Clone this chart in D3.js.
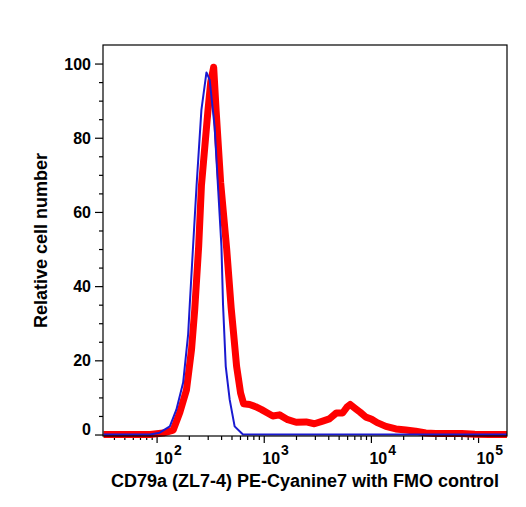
<!DOCTYPE html>
<html>
<head>
<meta charset="utf-8">
<script src="https://cdn.jsdelivr.net/npm/d3@7"></script>
<style>
  body { margin: 0; background: #fff; }
  text { font-family: "Liberation Sans", Arial, sans-serif; font-weight: bold; fill: #000; }
</style>
</head>
<body>
<div id="chart"></div>
<script>
// FMO control (blue) : intensity, % of max
var fmoIntensity = [32, 87, 107, 133, 153, 177, 197, 204, 219, 236, 262, 292, 313, 348, 374, 403, 417, 442, 481, 535, 640, 186000];
var fmoPercent   = [0, 0, 0.5, 2.2, 6.7, 14, 27, 35, 50.7, 67, 87.5, 97.6, 95.6, 83, 67, 50.7, 35, 18.4, 9.4, 2.2, 0, 0];

// CD79a stained (red)
var cdIntensity = [32, 87, 115, 143, 165, 190, 212, 227, 247, 262, 302, 320, 341, 360, 396, 451, 497, 524, 558, 608, 649,
  738, 839, 955, 1084, 1215, 1403, 1675, 2004, 2483, 2970, 3550, 4095, 4755, 5445, 6025, 6410, 7245, 7945, 8975,
  10070, 11450, 13800, 17100, 21200, 26200, 32500, 40300, 70600, 93300, 126000, 186000];
var cdPercent = [0, 0, 0.4, 1.2, 6, 12, 23, 33.7, 50.7, 67, 87.5, 95, 99, 87, 68, 50, 34, 27, 18.4, 11.2, 8.3,
  8.1, 7.5, 6.7, 5.8, 5.0, 5.3, 4.0, 3.3, 3.4, 2.9, 3.6, 4.2, 5.8, 5.8, 7.5, 8.1, 6.9, 6.0, 4.7,
  4.2, 3.2, 2.2, 1.5, 1.2, 0.9, 0.4, 0.3, 0.3, 0.1, 0, 0];

var yMajor = [0, 20, 40, 60, 80, 100];
var xMajor = [100, 1000, 10000, 100000];
var xLabelExp = ["2", "3", "4", "5"];

var margin = {top: 45, right: 19, bottom: 71, left: 103};
var W = 526, H = 507;
var w = W - margin.left - margin.right;
var h = H - margin.top - margin.bottom;

var svg = d3.select("#chart").append("svg")
  .attr("width", W)
  .attr("height", H);

var g = svg.append("g")
  .attr("transform", "translate(" + margin.left + "," + margin.top + ")");

var x = d3.scaleLog().domain([Math.pow(10, 1.5), Math.pow(10, 5.27)]).range([0, w]);
var y = d3.scaleLinear().domain([-0.4, 105]).range([h, 0]);

// minor ticks
var xMinor = [];
[10, 100, 1000, 10000, 100000].forEach(function (d) {
  for (var k = 2; k <= 9; k++) {
    var v = d * k;
    if (v >= x.domain()[0] && v <= x.domain()[1]) xMinor.push(v);
  }
});
var yMinor = d3.range(5, 100, 5).filter(function (d) { return yMajor.indexOf(d) < 0; });

g.append("g")
  .attr("transform", "translate(0," + h + ")")
  .call(d3.axisBottom(x).tickValues(xMinor).tickSize(4).tickFormat(""))
  .call(function (a) { a.select(".domain").remove(); });

g.append("g")
  .call(d3.axisLeft(y).tickValues(yMinor).tickSize(4).tickFormat(""))
  .call(function (a) { a.select(".domain").remove(); });

// major ticks
var xAxis = g.append("g")
  .attr("transform", "translate(0," + h + ")")
  .call(d3.axisBottom(x).tickValues(xMajor).tickSize(7).tickFormat(""));
xAxis.select(".domain").remove();

xAxis.selectAll(".tick").append("text")
  .attr("x", -2)
  .attr("y", 28)
  .attr("text-anchor", "start")
  .style("font-size", "16px")
  .each(function (d, i) {
    var t = d3.select(this);
    t.append("tspan").text("10");
    t.append("tspan").attr("dy", -9).attr("dx", 1).style("font-size", "14px").text(xLabelExp[i]);
  });

var yAxis = g.append("g")
  .call(d3.axisLeft(y).tickValues(yMajor).tickSize(8).tickFormat(""));
yAxis.select(".domain").remove();

yAxis.selectAll(".tick").append("text")
  .attr("x", -12)
  .attr("dy", function (d) { return d === 0 ? "0" : "0.35em"; })
  .attr("text-anchor", "end")
  .style("font-size", "16px")
  .text(function (d) { return d; });

g.selectAll(".tick line").attr("stroke", "#000").attr("stroke-width", 1.2);

// histograms
var line = d3.line()
  .x(function (d) { return x(d[0]); })
  .y(function (d) { return y(d[1]); });

var plot = g.append("g");

plot.append("path")
  .datum(d3.zip(cdIntensity, cdPercent))
  .attr("fill", "none")
  .attr("stroke", "#ff0000")
  .attr("stroke-width", 7)
  .attr("stroke-linejoin", "round")
  .attr("d", line);

plot.append("path")
  .datum(d3.zip(fmoIntensity, fmoPercent))
  .attr("fill", "none")
  .attr("stroke", "#1a1ad0")
  .attr("stroke-width", 2)
  .attr("stroke-linejoin", "round")
  .attr("d", line);

// frame
g.append("rect")
  .attr("width", w)
  .attr("height", h)
  .attr("fill", "none")
  .attr("stroke", "#000")
  .attr("stroke-width", 1.2);

// axis titles
svg.append("text")
  .attr("x", margin.left + w / 2)
  .attr("y", 487)
  .attr("text-anchor", "middle")
  .style("font-size", "18px")
  .text("CD79a (ZL7-4) PE-Cyanine7 with FMO control");

svg.append("text")
  .attr("transform", "translate(47," + (margin.top + h / 2) + ") rotate(-90)")
  .attr("text-anchor", "middle")
  .style("font-size", "18px")
  .text("Relative cell number");
</script>
</body>
</html>
